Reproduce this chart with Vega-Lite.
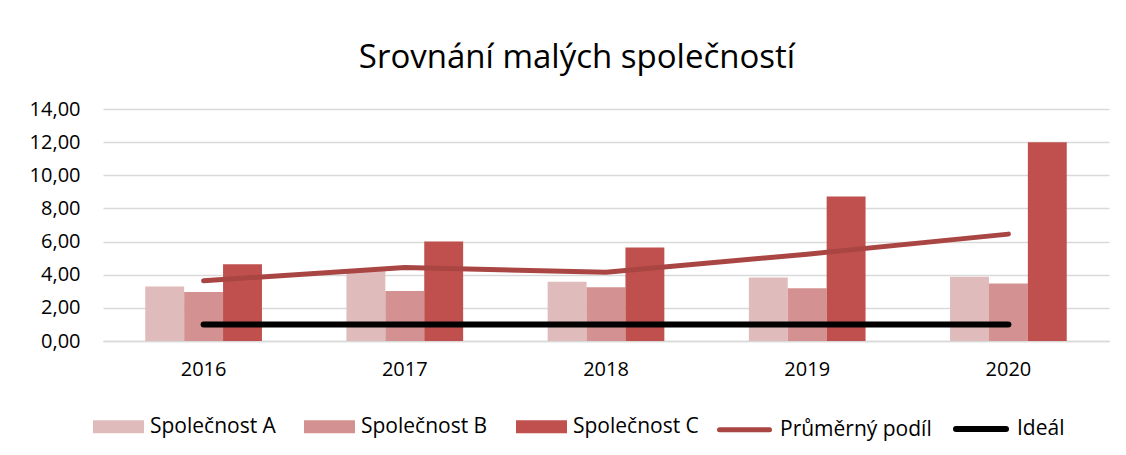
{
  "$schema": "https://vega.github.io/schema/vega-lite/v6.json",
  "width": 1006,
  "height": 232,
  "autosize": "none",
  "padding": {"left": 103, "top": 109, "right": 17, "bottom": 114},
  "background": "white",
  "config": {"font": "Open Sans", "view": {"stroke": null}},
  "title": {
    "text": "Srovnání malých společností",
    "fontSize": 33,
    "fontWeight": "normal",
    "font": "Open Sans",
    "color": "#000000",
    "anchor": "middle",
    "frame": "group",
    "dx": -29,
    "offset": -2,
    "baseline": "alphabetic"
  },
  "datasets": {
    "bars": [
      {"year": "2016", "series": "Společnost A", "value": 3.29},
      {"year": "2016", "series": "Společnost B", "value": 2.96},
      {"year": "2016", "series": "Společnost C", "value": 4.63},
      {"year": "2017", "series": "Společnost A", "value": 4.3},
      {"year": "2017", "series": "Společnost B", "value": 3.02},
      {"year": "2017", "series": "Společnost C", "value": 6.0},
      {"year": "2018", "series": "Společnost A", "value": 3.57},
      {"year": "2018", "series": "Společnost B", "value": 3.24},
      {"year": "2018", "series": "Společnost C", "value": 5.64},
      {"year": "2019", "series": "Společnost A", "value": 3.83},
      {"year": "2019", "series": "Společnost B", "value": 3.18},
      {"year": "2019", "series": "Společnost C", "value": 8.72},
      {"year": "2020", "series": "Společnost A", "value": 3.87},
      {"year": "2020", "series": "Společnost B", "value": 3.47},
      {"year": "2020", "series": "Společnost C", "value": 12.0}
    ],
    "lines": [
      {"year": "2016", "series": "Průměrný podíl", "value": 3.63},
      {"year": "2017", "series": "Průměrný podíl", "value": 4.44},
      {"year": "2018", "series": "Průměrný podíl", "value": 4.15},
      {"year": "2019", "series": "Průměrný podíl", "value": 5.24},
      {"year": "2020", "series": "Průměrný podíl", "value": 6.45},
      {"year": "2016", "series": "Ideál", "value": 1},
      {"year": "2017", "series": "Ideál", "value": 1},
      {"year": "2018", "series": "Ideál", "value": 1},
      {"year": "2019", "series": "Ideál", "value": 1},
      {"year": "2020", "series": "Ideál", "value": 1}
    ]
  },
  "encoding": {
    "x": {
      "field": "year",
      "type": "nominal",
      "scale": {"paddingInner": 0.42, "paddingOuter": 0.21},
      "axis": {
        "title": null,
        "labelAngle": 0,
        "ticks": false,
        "domainColor": "#d9d9d9",
        "domainWidth": 1.5,
        "labelFontSize": 20,
        "labelPadding": 18,
        "labelColor": "#000000",
        "labelFont": "Open Sans"
      }
    },
    "y": {
      "field": "value",
      "type": "quantitative",
      "scale": {"domain": [0, 14], "nice": false},
      "axis": {
        "title": null,
        "values": [0, 2, 4, 6, 8, 10, 12, 14],
        "tickCount": 8,
        "labelExpr": "replace(format(datum.value, '.2f'), '.', ',')",
        "labelOverlap": false,
        "grid": true,
        "gridColor": "#d9d9d9",
        "gridWidth": 1.5,
        "domain": false,
        "ticks": false,
        "labelPadding": 23,
        "labelFontSize": 20,
        "labelColor": "#000000",
        "labelFont": "Open Sans"
      }
    }
  },
  "layer": [
    {
      "data": {"name": "bars"},
      "mark": {"type": "bar"},
      "encoding": {
        "xOffset": {
          "field": "series",
          "type": "nominal",
          "sort": ["Společnost A", "Společnost B", "Společnost C"]
        },
        "fill": {
          "field": "series",
          "type": "nominal",
          "scale": {
            "domain": ["Společnost A", "Společnost B", "Společnost C"],
            "range": ["#e0bbbb", "#d39291", "#c0504d"]
          },
          "legend": {
            "orient": "none",
            "legendX": -10,
            "legendY": 292,
            "direction": "horizontal",
            "title": null,
            "symbolType": "M-1,-0.255H1V0.255H-1Z",
            "symbolSize": 2601,
            "symbolStrokeWidth": 0,
            "labelFontSize": 21,
            "labelFont": "Open Sans",
            "labelColor": "#000000",
            "labelOffset": 6,
            "columnPadding": 28
          }
        }
      }
    },
    {
      "data": {"name": "lines"},
      "mark": {"type": "line", "strokeCap": "round", "strokeJoin": "round"},
      "encoding": {
        "stroke": {
          "field": "series",
          "type": "nominal",
          "scale": {
            "domain": ["Průměrný podíl", "Ideál"],
            "range": ["#a94643", "#000000"]
          },
          "legend": {
            "orient": "none",
            "legendX": 614,
            "legendY": 292,
            "direction": "horizontal",
            "title": null,
            "symbolType": "M-1,0H1",
            "symbolSize": 2500,
            "symbolStrokeWidth": 5.5,
            "labelFontSize": 21,
            "labelFont": "Open Sans",
            "labelColor": "#000000",
            "labelOffset": 8,
            "columnPadding": 12,
            "encode": {"symbols": {"update": {"strokeCap": {"value": "round"}}}}
          }
        },
        "strokeWidth": {
          "field": "series",
          "type": "nominal",
          "scale": {"domain": ["Průměrný podíl", "Ideál"], "range": [5, 6]},
          "legend": null
        }
      }
    }
  ]
}
